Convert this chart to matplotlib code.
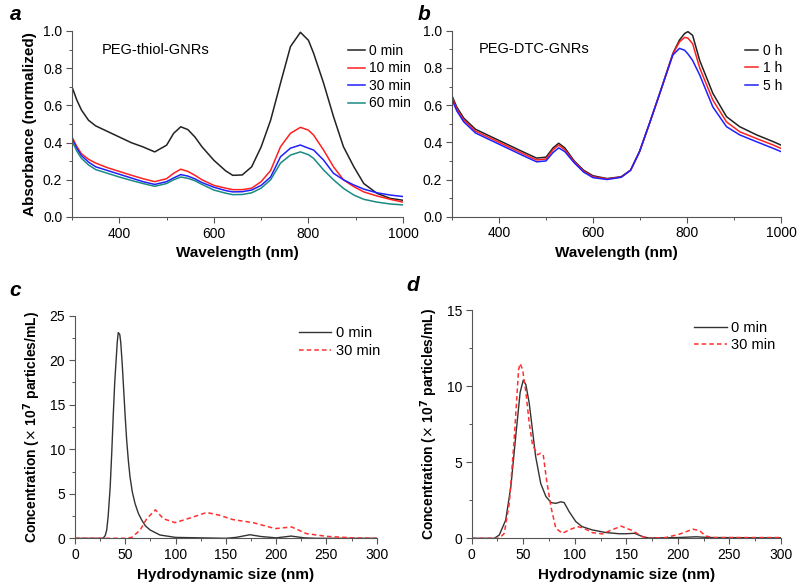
import numpy as np
import matplotlib
matplotlib.use("Agg")
import matplotlib.pyplot as plt
from matplotlib.ticker import MultipleLocator, FormatStrFormatter

plt.rcParams['font.family'] = ['Liberation Sans', 'DejaVu Sans']

# ---- panel a: PEG-thiol-GNRs absorbance ----
wl_a = [300, 310, 320, 335, 350, 375, 400, 425, 450, 475, 500, 515, 530, 545, 560, 575, 600, 625,
        640, 660, 680, 700, 720, 741, 762, 783, 800, 811, 832, 853, 874, 896, 917, 945, 973, 1000]
a_0min = [0.70, 0.63, 0.575, 0.52, 0.49, 0.46, 0.43, 0.40, 0.377, 0.35, 0.386, 0.45, 0.485, 0.47,
          0.43, 0.377, 0.305, 0.248, 0.224, 0.226, 0.27, 0.377, 0.52, 0.72, 0.916, 0.993, 0.95,
          0.88, 0.72, 0.54, 0.378, 0.27, 0.18, 0.127, 0.10, 0.09]
a_10min = [0.43, 0.38, 0.34, 0.31, 0.29, 0.265, 0.245, 0.225, 0.206, 0.19, 0.206, 0.235, 0.257,
           0.245, 0.224, 0.20, 0.17, 0.155, 0.147, 0.147, 0.155, 0.19, 0.25, 0.378, 0.45, 0.482,
           0.467, 0.44, 0.36, 0.27, 0.20, 0.163, 0.135, 0.113, 0.095, 0.08]
a_30min = [0.42, 0.37, 0.33, 0.295, 0.27, 0.25, 0.23, 0.21, 0.19, 0.175, 0.19, 0.21, 0.228, 0.22,
           0.205, 0.185, 0.16, 0.142, 0.135, 0.136, 0.145, 0.17, 0.215, 0.324, 0.37, 0.387, 0.37,
           0.36, 0.306, 0.235, 0.20, 0.172, 0.15, 0.13, 0.118, 0.11]
a_60min = [0.41, 0.355, 0.315, 0.28, 0.255, 0.235, 0.215, 0.197, 0.18, 0.165, 0.18, 0.20, 0.215,
           0.208, 0.195, 0.175, 0.145, 0.128, 0.12, 0.121, 0.13, 0.155, 0.20, 0.29, 0.333, 0.35,
           0.335, 0.315, 0.253, 0.20, 0.154, 0.118, 0.095, 0.08, 0.07, 0.065]

# ---- panel b: PEG-DTC-GNRs absorbance ----
wl_b = [300, 310, 325, 350, 375, 400, 425, 450, 480, 500, 515, 527, 540, 560, 580, 600, 630, 660,
        680, 699, 720, 742, 770, 784, 795, 802, 812, 827, 855, 884, 912, 948, 984, 1000]
b_0h = [0.65, 0.59, 0.53, 0.47, 0.44, 0.41, 0.38, 0.35, 0.315, 0.32, 0.37, 0.395, 0.37, 0.30, 0.25,
        0.22, 0.205, 0.215, 0.25, 0.35, 0.50, 0.663, 0.878, 0.95, 0.985, 0.995, 0.975, 0.84, 0.663,
        0.538, 0.484, 0.44, 0.403, 0.385]
b_1h = [0.64, 0.58, 0.52, 0.46, 0.43, 0.40, 0.37, 0.34, 0.305, 0.31, 0.36, 0.385, 0.36, 0.295, 0.245,
        0.215, 0.203, 0.213, 0.25, 0.35, 0.50, 0.663, 0.875, 0.94, 0.964, 0.96, 0.93, 0.80, 0.627,
        0.51, 0.457, 0.42, 0.385, 0.367]
b_5h = [0.63, 0.57, 0.51, 0.45, 0.42, 0.39, 0.36, 0.33, 0.295, 0.30, 0.345, 0.37, 0.35, 0.29, 0.24,
        0.21, 0.20, 0.212, 0.25, 0.35, 0.50, 0.663, 0.87, 0.905, 0.895, 0.875, 0.84, 0.762, 0.59,
        0.484, 0.44, 0.403, 0.367, 0.35]

# ---- panel c: NTA, PEG-thiol ----
size_c0 = [0, 28, 30, 31.5, 33, 35, 36.5, 38, 39.5, 40.5, 42, 43, 44.5, 45.5, 47, 48.5, 50, 51.4,
           53, 54.7, 57, 59.7, 63, 66.3, 70, 74.6, 84.5, 100, 150, 160, 174, 185, 200, 215, 228,
           240, 300]
conc_c0 = [0, 0, 0.3, 0.9, 2.5, 5.8, 9.5, 13.7, 17.5, 19.3, 22.0, 23.1, 22.9, 22.0, 19.5, 16.5,
           13.5, 11.0, 8.8, 6.9, 5.2, 3.9, 2.8, 2.06, 1.4, 0.94, 0.37, 0.1, 0.0, 0.1, 0.4, 0.2,
           0.05, 0.25, 0.05, 0, 0]
size_c30 = [0, 50, 56.4, 64.6, 71.3, 80, 87.8, 99.5, 115, 131, 144, 157, 177, 199, 215.5, 230, 250,
            276, 300]
conc_c30 = [0, 0, 0.1, 0.9, 2.2, 3.2, 2.2, 1.76, 2.3, 2.9, 2.58, 2.1, 1.76, 1.09, 1.27, 0.53, 0.22,
            0.05, 0]

# ---- panel d: NTA, PEG-DTC ----
size_d0 = [0, 22, 26.8, 33, 38, 43, 47, 50, 52.6, 55.8, 59, 62, 67, 72, 77, 81.6, 86.5, 89.7, 94.5,
           101, 107, 117, 130, 143, 150, 158, 166, 172, 200, 218, 230, 300]
conc_d0 = [0, 0, 0.22, 1.2, 3.4, 6.9, 9.6, 10.4, 10.1, 8.9, 7.1, 5.4, 3.6, 2.75, 2.35, 2.3, 2.4, 2.35,
           1.76, 1.1, 0.77, 0.55, 0.38, 0.3, 0.3, 0.33, 0.1, 0.02, 0.05, 0.1, 0.05, 0.03]
size_d30 = [0, 27, 31.6, 36.5, 41, 45.5, 47, 49.4, 52.6, 55.8, 59, 64, 67, 69.4, 72.6, 76.8, 81.6, 88,
            94.5, 102.6, 109, 117, 127, 134, 145, 156, 166, 172, 188, 201, 214.6, 221, 227, 234, 300]
conc_d30 = [0, 0, 0.33, 2.3, 6.3, 11.1, 11.5, 11.1, 9.6, 7.6, 6.15, 5.5, 5.6, 5.5, 3.85, 2.1, 0.66,
            0.33, 0.55, 0.77, 0.66, 0.37, 0.29, 0.5, 0.8, 0.5, 0.1, 0.0, 0.05, 0.26, 0.6, 0.5, 0.15,
            0.05, 0.05]

fig = plt.figure(figsize=(8, 5.86), dpi=100)
ax_a = fig.add_axes([0.09, 0.6297, 0.41375, 0.3174])
ax_b = fig.add_axes([0.565, 0.6302, 0.41125, 0.3174])
ax_c = fig.add_axes([0.09375, 0.0814, 0.3771, 0.3799])
ax_d = fig.add_axes([0.5896, 0.0814, 0.3866, 0.389])


def style(ax):
    for s in ['top', 'right']:
        ax.spines[s].set_visible(False)
    for s in ['left', 'bottom']:
        ax.spines[s].set_color('#555555')
    ax.tick_params(which='major', direction='out', length=4, width=0.8, color='#555555',
                   labelsize=10, pad=3)
    ax.tick_params(which='minor', direction='out', length=2.5, width=0.7, color='#555555')


# panel a
ax_a.plot(wl_a, a_0min, color='#222222', lw=1.1, label='0 min')
ax_a.plot(wl_a, a_10min, color='#ff2020', lw=1.1, label='10 min')
ax_a.plot(wl_a, a_30min, color='#2020ff', lw=1.1, label='30 min')
ax_a.plot(wl_a, a_60min, color='#1a8a84', lw=1.1, label='60 min')
ax_a.set_xlim(300, 1000)
ax_a.set_ylim(0, 1.0)
ax_a.xaxis.set_major_locator(MultipleLocator(200))
ax_a.xaxis.set_minor_locator(MultipleLocator(100))
ax_a.yaxis.set_major_locator(MultipleLocator(0.2))
ax_a.yaxis.set_minor_locator(MultipleLocator(0.1))
ax_a.yaxis.set_major_formatter(FormatStrFormatter('%.1f'))
ax_a.set_xlabel('Wavelength (nm)', fontsize=11, fontweight='bold', labelpad=4)
ax_a.set_ylabel('Absorbance (normalized)', fontsize=11, fontweight='bold', labelpad=4)
ax_a.text(0.09, 0.9, 'PEG-thiol-GNRs', transform=ax_a.transAxes, fontsize=10.5, va='center')
ax_a.legend(loc='upper right', bbox_to_anchor=(1.04, 0.96), frameon=False, fontsize=10,
            handlelength=1.2, handletextpad=0.3, labelspacing=0.25, borderaxespad=0)
style(ax_a)

# panel b
ax_b.plot(wl_b, b_0h, color='#222222', lw=1.1, label='0 h')
ax_b.plot(wl_b, b_1h, color='#ff2020', lw=1.1, label='1 h')
ax_b.plot(wl_b, b_5h, color='#2020ff', lw=1.1, label='5 h')
ax_b.set_xlim(300, 1000)
ax_b.set_ylim(0, 1.0)
ax_b.xaxis.set_major_locator(MultipleLocator(200))
ax_b.xaxis.set_minor_locator(MultipleLocator(100))
ax_b.yaxis.set_major_locator(MultipleLocator(0.2))
ax_b.yaxis.set_minor_locator(MultipleLocator(0.1))
ax_b.yaxis.set_major_formatter(FormatStrFormatter('%.1f'))
ax_b.set_xlabel('Wavelength (nm)', fontsize=11, fontweight='bold', labelpad=4)
ax_b.text(0.08, 0.9, 'PEG-DTC-GNRs', transform=ax_b.transAxes, fontsize=10.5, va='center')
ax_b.legend(loc='upper right', bbox_to_anchor=(1.02, 0.96), frameon=False, fontsize=10,
            handlelength=1.0, handletextpad=0.3, labelspacing=0.25, borderaxespad=0)
style(ax_b)

ylab_c = r'Concentration ($\times$ 10$^{\mathbf{7}}$ particles/mL)'

# panel c
ax_c.plot(size_c0, conc_c0, color='#333333', lw=1.0, label='0 min')
ax_c.plot(size_c30, conc_c30, color='#ff3030', lw=1.1, ls=(0, (3, 2)), label='30 min')
ax_c.set_xlim(0, 300)
ax_c.set_ylim(0, 25)
ax_c.xaxis.set_major_locator(MultipleLocator(50))
ax_c.xaxis.set_minor_locator(MultipleLocator(25))
ax_c.yaxis.set_major_locator(MultipleLocator(5))
ax_c.yaxis.set_minor_locator(MultipleLocator(2.5))
ax_c.set_xlabel('Hydrodynamic size (nm)', fontsize=11, fontweight='bold', labelpad=4)
ax_c.set_ylabel(ylab_c, fontsize=10, fontweight='bold', labelpad=5)
ax_c.legend(loc='upper right', bbox_to_anchor=(1.03, 0.98), frameon=False, fontsize=10.5,
            handlelength=2.2, handletextpad=0.3, labelspacing=0.25, borderaxespad=0)
style(ax_c)

# panel d
ax_d.plot(size_d0, conc_d0, color='#333333', lw=1.0, label='0 min')
ax_d.plot(size_d30, conc_d30, color='#ff3030', lw=1.1, ls=(0, (3, 2)), label='30 min')
ax_d.set_xlim(0, 300)
ax_d.set_ylim(0, 15)
ax_d.xaxis.set_major_locator(MultipleLocator(50))
ax_d.xaxis.set_minor_locator(MultipleLocator(25))
ax_d.yaxis.set_major_locator(MultipleLocator(5))
ax_d.yaxis.set_minor_locator(MultipleLocator(2.5))
ax_d.set_xlabel('Hydrodynamic size (nm)', fontsize=11, fontweight='bold', labelpad=4)
ax_d.set_ylabel(ylab_c, fontsize=10, fontweight='bold', labelpad=5)
ax_d.legend(loc='upper right', bbox_to_anchor=(1.0, 0.98), frameon=False, fontsize=10.5,
            handlelength=2.2, handletextpad=0.3, labelspacing=0.25, borderaxespad=0)
style(ax_d)

# panel letters
for lab, x, y in [('a', 0.012, 0.975), ('b', 0.522, 0.975), ('c', 0.012, 0.505), ('d', 0.508, 0.512)]:
    fig.text(x, y, lab, fontsize=15, fontweight='bold', fontstyle='italic', va='center')

fig.savefig('out.png', dpi=100)
